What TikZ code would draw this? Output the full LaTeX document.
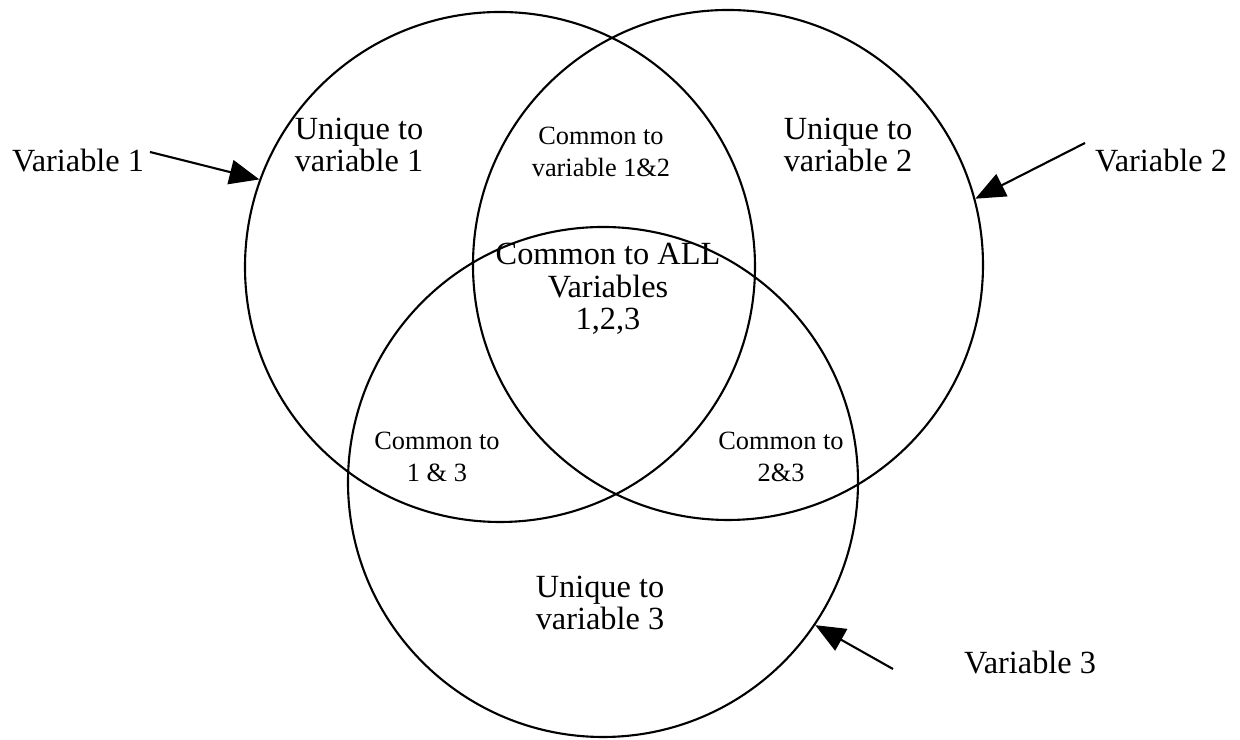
\documentclass[tikz,border=0pt]{standalone}
\usepackage{fontspec}
\setmainfont{Liberation Serif}
\usetikzlibrary{arrows.meta}
\begin{document}
\begin{tikzpicture}[
  venn/.style={draw, line width=0.6pt, circle, minimum size=5.1cm, inner sep=0pt},
  big/.style={align=center, font=\fontsize{9.2}{9.3}\selectfont, inner sep=0pt},
  small/.style={align=center, font=\fontsize{7.5}{9.3}\selectfont, inner sep=0pt},
  pointer/.style={line width=0.6pt, -{Triangle[length=8.5pt,width=7pt]}}
]
\useasboundingbox (0,0) rectangle (12.4,-7.4);
\node[venn] (c1) at (5.00,-2.67) {};
\node[venn] (c2) at (7.28,-2.65) {};
\node[venn] (c3) at (6.03,-4.82) {};

\node[big] (u1) at (3.59,-1.45) {Unique to\\variable 1};
\node[small] (c12) at (6.01,-1.52) {Common to\\variable 1\&2};
\node[big] (u2) at (8.48,-1.45) {Unique to\\variable 2};
\node[big] (all) at (6.08,-2.89) {Common to ALL\\Variables\\1,2,3};
\node[small] (c13) at (4.37,-4.57) {Common to\\1 \& 3};
\node[small] (c23) at (7.81,-4.57) {Common to\\2\&3};
\node[big] (u3) at (6.00,-6.03) {Unique to\\variable 3};

\node[big] (v1) at (0.78,-1.61) {Variable 1};
\node[big] (v2) at (11.61,-1.61) {Variable 2};
\node[big] (v3) at (10.30,-6.63) {Variable 3};

\coordinate (s1) at (1.50,-1.52);
\coordinate (s2) at (10.85,-1.43);
\coordinate (s3) at (8.93,-6.69);
\draw[pointer] (s1) -- (c1.160.9);
\draw[pointer] (s2) -- (c2.15.4);
\draw[pointer] (s3) -- (c3.-34.6);
\end{tikzpicture}
\end{document}
